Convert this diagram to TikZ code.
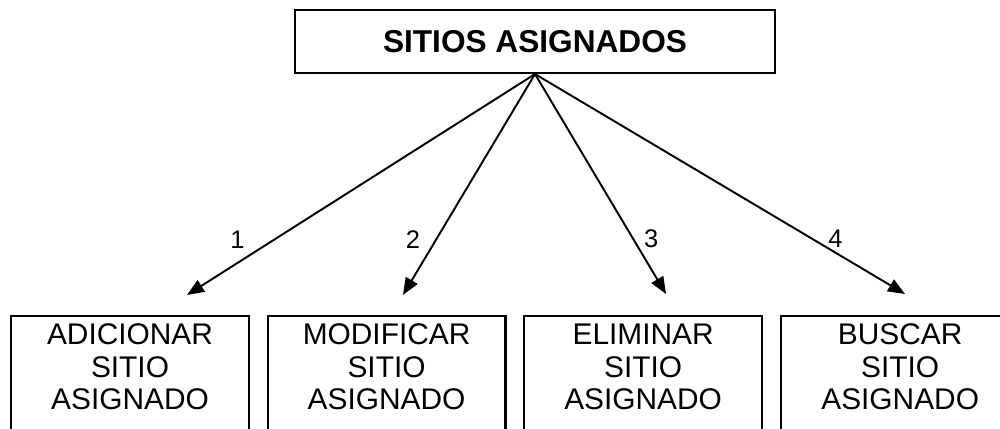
\documentclass[tikz,border=0pt]{standalone}
\usepackage{fontspec}
\setmainfont{Liberation Sans}
\usetikzlibrary{arrows.meta, positioning}

\begin{document}
\begin{tikzpicture}[x=0.02cm, y=-0.02cm,
    titlebox/.style={rectangle, draw, line width=1.2pt, minimum width=9.6cm, minimum height=1.26cm, font=\fontsize{18}{20}\selectfont\bfseries},
    opbox/.style={rectangle, draw, line width=1.2pt, anchor=north, inner xsep=0pt, inner ysep=0.16cm, text width=4.76cm, align=center, text depth=3cm, font=\fontsize{17}{18.4}\selectfont},
    num/.style={font=\fontsize{14.5}{16}\selectfont, inner sep=1pt},
    flecha/.style={-{Triangle[length=0.34cm, width=0.27cm]}, line width=1.1pt}
]
\useasboundingbox (0,0) rectangle (1000,429);

\node[titlebox] (sitios) at (535,41.5) {SITIOS ASIGNADOS};

\node[opbox] (adicionar) at (130,315) {ADICIONAR\\SITIO\\ASIGNADO};
\node[opbox, right=0.33cm of adicionar] (modificar) {MODIFICAR\\SITIO\\ASIGNADO};
\node[opbox, right=0.33cm of modificar] (eliminar) {ELIMINAR\\SITIO\\ASIGNADO};
\node[opbox, right=0.34cm of eliminar] (buscar) {BUSCAR\\SITIO\\ASIGNADO};

% puntas de las flechas
\coordinate (p1) at (187,295);
\coordinate (p2) at (403,295);
\coordinate (p3) at (666,294);
\coordinate (p4) at (905,294);

\draw[flecha] (sitios.south) -- node[num, pos=.75, xshift=-0.73cm] (n1) {1} (p1);
\draw[flecha] (sitios.south) -- node[num, pos=.75, xshift=-0.46cm] (n2) {2} (p2);
\draw[flecha] (sitios.south) -- node[num, pos=.75, xshift=0.36cm] (n3) {3} (p3);
\draw[flecha] (sitios.south) -- node[num, pos=.75, xshift=0.46cm] (n4) {4} (p4);
\end{tikzpicture}
\end{document}
